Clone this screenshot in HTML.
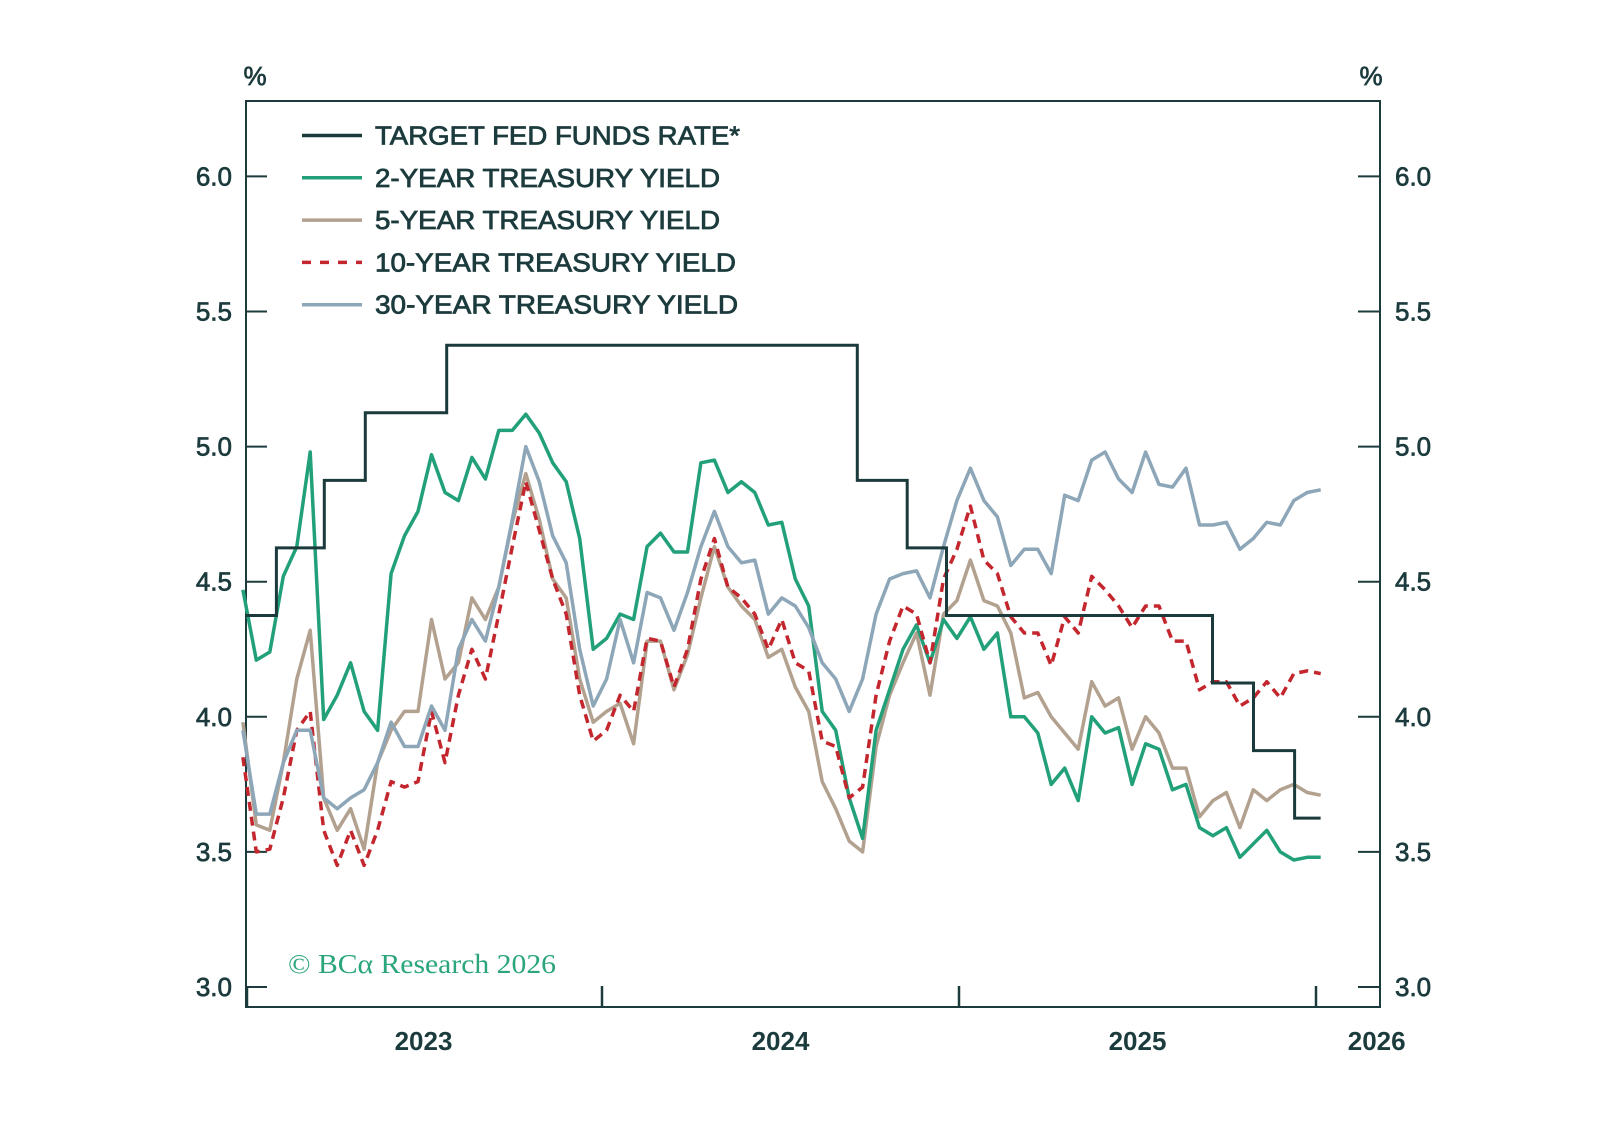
<!DOCTYPE html>
<html><head><meta charset="utf-8"><style>
html,body{margin:0;padding:0;background:#fff;}
svg{display:block;font-family:"Liberation Sans",sans-serif;}
</style></head><body>
<svg id="chart" width="1598" height="1144" viewBox="0 0 1598 1144" xmlns="http://www.w3.org/2000/svg">
<rect x="0" y="0" width="1598" height="1144" fill="#fff"/>
<g id="axes"></g>
<g id="series"></g>
<g id="legend"></g>
<text x="288" y="973" fill="#2aa57c" font-family="'Liberation Serif',serif" font-size="27" textLength="268" lengthAdjust="spacingAndGlyphs">© BCα Research 2026</text>
</svg>
<script>
const yTicks=[3.0,3.5,4.0,4.5,5.0,5.5,6.0];
const yTickLabels=["3.0","3.5","4.0","4.5","5.0","5.5","6.0"];
const xTickYears=[2023,2024,2025,2026];
const xLabelYears=["2023","2024","2025","2026"];
const xLabelPos=[2023.5,2024.5,2025.5,2026.17];
const seriesStart=2022.994;
const seriesStep=0.03774;
const fedDates=[2023.0,2023.088,2023.222,2023.337,2023.565,2024.715,2024.855,2024.965,2025.71,2025.825,2025.94];
const fedRates=[4.375,4.625,4.875,5.125,5.375,4.875,4.625,4.375,4.125,3.875,3.625];
const fedEnd=2026.013;
const y2=[4.47,4.21,4.24,4.52,4.63,4.98,3.99,4.08,4.2,4.02,3.95,4.53,4.67,4.76,4.97,4.83,4.8,4.96,4.88,5.06,5.06,5.12,5.05,4.94,4.87,4.66,4.25,
4.29,4.38,4.36,4.63,4.68,4.61,4.61,4.94,4.95,4.83,4.87,4.83,4.71,4.72,4.51,4.41,4.02,3.95,3.7,3.55,3.95,4.1,4.25,4.34,4.2,4.36,
4.29,4.37,4.25,4.31,4.0,4.0,3.94,3.75,3.81,3.69,4.0,3.94,3.96,3.75,3.9,3.88,3.73,3.75,3.59,3.56,3.59,3.48,3.53,3.58,3.5,3.47,3.48,3.48];
const y5=[3.98,3.6,3.58,3.83,4.14,4.32,3.7,3.58,3.66,3.51,3.83,3.95,4.02,4.02,4.36,4.14,4.2,4.44,4.36,4.48,4.72,4.9,4.73,4.51,4.44,4.14,3.98,
4.02,4.05,3.9,4.28,4.28,4.1,4.23,4.44,4.63,4.48,4.41,4.36,4.22,4.25,4.11,4.02,3.76,3.66,3.54,3.5,3.89,4.08,4.2,4.31,4.08,4.38,
4.43,4.58,4.43,4.41,4.31,4.07,4.09,4.0,3.94,3.88,4.13,4.04,4.07,3.88,4.0,3.94,3.81,3.81,3.63,3.69,3.72,3.59,3.73,3.69,3.73,3.75,3.72,3.71];
const y10=[3.85,3.5,3.51,3.7,3.95,4.02,3.58,3.45,3.58,3.45,3.58,3.76,3.74,3.76,4.02,3.83,4.08,4.25,4.14,4.38,4.63,4.87,4.69,4.51,4.38,4.08,3.91,
3.95,4.08,4.02,4.29,4.28,4.11,4.25,4.51,4.66,4.48,4.44,4.38,4.25,4.36,4.2,4.17,3.91,3.89,3.7,3.74,4.08,4.28,4.41,4.38,4.2,4.51,
4.62,4.78,4.58,4.53,4.37,4.31,4.31,4.19,4.37,4.31,4.52,4.47,4.41,4.33,4.41,4.41,4.28,4.28,4.1,4.13,4.13,4.04,4.07,4.13,4.07,4.16,4.17,4.16];
const y30=[3.95,3.64,3.64,3.83,3.95,3.95,3.7,3.66,3.7,3.73,3.83,3.98,3.89,3.89,4.04,3.95,4.25,4.36,4.28,4.48,4.73,5.0,4.87,4.67,4.57,4.25,4.04,
4.14,4.36,4.2,4.46,4.44,4.32,4.46,4.63,4.76,4.63,4.57,4.58,4.38,4.44,4.41,4.33,4.2,4.14,4.02,4.14,4.38,4.51,4.53,4.54,4.44,4.63,
4.8,4.92,4.8,4.74,4.56,4.62,4.62,4.53,4.82,4.8,4.95,4.98,4.88,4.83,4.98,4.86,4.85,4.92,4.71,4.71,4.72,4.62,4.66,4.72,4.71,4.8,4.83,4.84];

const NS="http://www.w3.org/2000/svg";
const INK="#1c3b3d";
function yS(v){return 987-(v-3)*270.2;}
function xS(t){return 245+(t-2023)*357;}
function mk(tag,attrs,parent){const e=document.createElementNS(NS,tag);for(const k in attrs)e.setAttribute(k,attrs[k]);parent.appendChild(e);return e;}
const axes=document.getElementById('axes');
const frame=mk('rect',{x:246,y:101,width:1134,height:906,fill:'none',stroke:INK,'stroke-width':2},axes);


yTicks.forEach((v,i)=>{
  const y=yS(v);
  const tl=mk('line',{x1:246,x2:267,y1:y,y2:y,stroke:INK,'stroke-width':2},axes);
  
  
  const tr=mk('line',{x1:1358,x2:1380,y1:y,y2:y,stroke:INK,'stroke-width':2},axes);
  
  
  const a=mk('text',{x:232,y:y+9,'text-anchor':'end','font-size':26,fill:INK,stroke:INK,'stroke-width':0.7},axes);
  a.textContent=yTickLabels[i];
  
  
  const b=mk('text',{x:1395,y:y+9,'text-anchor':'start','font-size':26,fill:INK,stroke:INK,'stroke-width':0.7},axes);
  b.textContent=yTickLabels[i];
  
  
});
xTickYears.forEach(yr=>{
  const x=Math.max(247,Math.min(1316,xS(yr)));
  const t=mk('line',{x1:x,x2:x,y1:1007,y2:986,stroke:INK,'stroke-width':2.5},axes);
  
  
});
xLabelYears.forEach((s,i)=>{
  const t=mk('text',{x:xS(xLabelPos[i]),y:1050,'text-anchor':'middle','font-size':26,'font-weight':'bold',fill:INK},axes);
  t.textContent=s;
  
  
});
[[255,'left-unit-label'],[1371,'right-unit-label']].forEach(p=>{
  const t=mk('text',{x:p[0],y:85,'text-anchor':'middle','font-size':26,fill:INK,stroke:INK,'stroke-width':0.7},axes);
  t.textContent='%';
  
  
});

const ser=document.getElementById('series');
function linePath(arr){return arr.map((v,i)=>(i?'L':'M')+xS(seriesStart+i*seriesStep).toFixed(1)+' '+yS(v).toFixed(1)).join(' ');}
const specs=[[y5,'#b3a190','five-year-line',''],[y2,'#22a07a','two-year-line',''],[y10,'#c4262e','ten-year-line','9 6'],[y30,'#8da6b8','thirty-year-line','']];
specs.forEach(s=>{
  const p=mk('path',{d:linePath(s[0]),fill:'none',stroke:s[1],'stroke-width':3.5,'stroke-linejoin':'round'},ser);
  if(s[3])p.setAttribute('stroke-dasharray',s[3]);
  
  
});
let d='M'+xS(fedDates[0])+' '+yS(fedRates[0]);
for(let i=1;i<fedDates.length;i++){d+=' H'+xS(fedDates[i]).toFixed(1)+' V'+yS(fedRates[i]).toFixed(1);}
d+=' H'+xS(fedEnd).toFixed(1);
const fp=mk('path',{d:d,fill:'none',stroke:'#1b3a3c','stroke-width':3},ser);



const leg=document.getElementById('legend');
const legItems=[['TARGET FED FUNDS RATE*','#1b3a3c','',365,'legend-fed-funds'],['2-YEAR TREASURY YIELD','#22a07a','',345,'legend-two-year'],['5-YEAR TREASURY YIELD','#b3a190','',345,'legend-five-year'],['10-YEAR TREASURY YIELD','#c4262e','9 9',361,'legend-ten-year'],['30-YEAR TREASURY YIELD','#8da6b8','',363,'legend-thirty-year']];
legItems.forEach((it,i)=>{
  const y=135.5+i*42.3;
  const g=mk('g',{},leg);
  
  
  const l=mk('line',{x1:302,x2:362,y1:y,y2:y,stroke:it[1],'stroke-width':3.5},g);
  if(it[2])l.setAttribute('stroke-dasharray',it[2]);
  const t=mk('text',{x:375,y:y+9,'font-size':26,fill:INK,stroke:INK,'stroke-width':0.8,textLength:it[3],lengthAdjust:'spacingAndGlyphs'},g);
  t.textContent=it[0];
});
</script>
</body></html>
